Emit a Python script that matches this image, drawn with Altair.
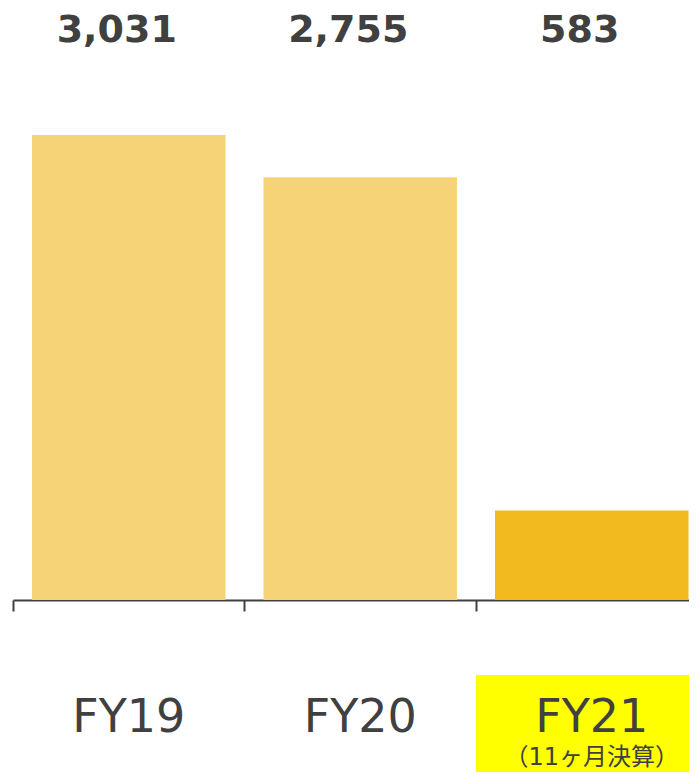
import altair as alt
import pandas as pd

categories = ["FY19", "FY20", "FY21"]
values = [3031, 2755, 583]
value_labels = ["3,031", "2,755", "583"]
bar_colors = ["#F6D377", "#F6D377", "#F2BA1E"]
note_category = ["FY21"]
note_text = ["（11ヶ月決算）"]

df = pd.DataFrame({"cat": categories, "value": values, "label": value_labels, "color": bar_colors})
note_df = pd.DataFrame({"cat": note_category, "note": note_text})

TEXT = "#404040"
FONT = "DejaVu Sans, Noto Sans CJK JP"

x = alt.X(
    "cat:N",
    sort=categories,
    scale=alt.Scale(range=[0, 694.5], paddingInner=0.164, paddingOuter=0.082),
    axis=alt.Axis(
        title=None, labels=False, bandPosition=0, tickOffset=-19,
        domainColor=TEXT, domainWidth=2, tickColor=TEXT, tickWidth=2, tickSize=11,
    ),
)

box = alt.Chart(note_df).mark_bar(color="#FFFF00", width=alt.RelativeBandSize(1.196)).encode(
    x=x, y=alt.value(667), y2=alt.value(820)
)

bars = alt.Chart(df).mark_bar().encode(
    x=x,
    y=alt.Y("value:Q", scale=alt.Scale(domain=[0, 3859], nice=False), axis=None),
    color=alt.Color("color:N", scale=None),
)

vals = alt.Chart(df).mark_text(
    fontSize=38, fontWeight="bold", font=FONT, color=TEXT, baseline="alphabetic", dx=-12
).encode(x=x, y=alt.value(34), text="label:N")

cats = alt.Chart(df).mark_text(
    fontSize=46, font=FONT, color=TEXT, baseline="alphabetic"
).encode(x=x, y=alt.value(724), text="cat:N")

notes = alt.Chart(note_df).mark_text(
    fontSize=24, font=FONT, color=TEXT, baseline="alphabetic"
).encode(x=x, y=alt.value(757), text="note:N")

chart = alt.layer(box, bars, vals, cats, notes).properties(
    width=676, height=592,
    autosize=alt.AutoSizeParams(type="none"),
    padding={"left": 5, "top": 0, "right": 0, "bottom": 172},
).configure_view(stroke=None)

chart.save("out.html", embed_options={"renderer": "svg", "actions": False})
